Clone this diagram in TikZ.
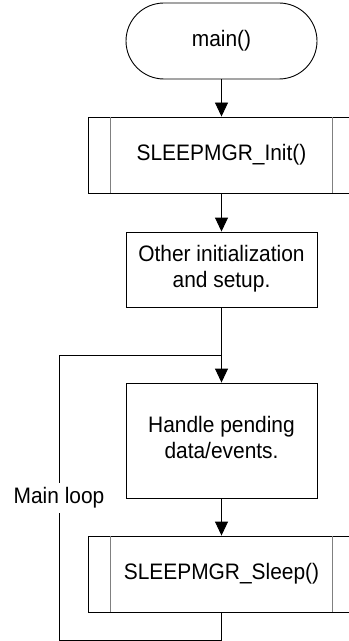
\documentclass[tikz,border=0pt]{standalone}
\usepackage{fontspec}
\usepackage{graphicx}
\setmainfont{Liberation Sans}
\usetikzlibrary{arrows.meta,calc}
\newcommand{\vtext}[1]{\scalebox{1}[1.07]{\begin{tabular}{@{}c@{}}#1\end{tabular}}}
\begin{document}
\begin{tikzpicture}[x=1bp,y=-1bp,
  every node/.style={font=\fontsize{21}{24}\selectfont, align=center, inner sep=0pt},
  box/.style={draw=black, line width=0.9bp, rectangle, fill=white},
  term/.style={draw=black, line width=0.9bp, rectangle, rounded corners=38bp, minimum width=191bp, minimum height=76bp},
  pbox/.style={box, minimum width=267bp, minimum height=76bp},
  pbar/.style={draw=gray, line width=1.2bp},
  conn/.style={draw=black, line width=0.9bp},
  arr/.style={conn, -{Triangle[width=13bp,length=14bp]}}]
\useasboundingbox (0,0) rectangle (348,641);
\node[term] (main) at (221.5,41) {\vtext{main()}};
\node[pbox] (init) at (221.5,155) {\vtext{SLEEPMGR\_Init()}};
\node[box, minimum width=191bp, minimum height=75bp] (other) at (221.5,269.5) {\vtext{Other initialization\\and setup.}};
\node[box, minimum width=191bp, minimum height=115bp] (handle) at (221.5,440.5) {\vtext{Handle pending\\data/events.}};
\node[pbox] (sleep) at (221.5,574) {\vtext{SLEEPMGR\_Sleep()}};
\foreach \n in {init,sleep}{
  \draw[pbar] ($(\n.north west)+(23,0)$) -- ($(\n.south west)+(23,0)$);
  \draw[pbar] ($(\n.north east)+(-23,0)$) -- ($(\n.south east)+(-23,0)$);
}
\coordinate (join) at (221.5,355);
\coordinate (tl) at (59,355);
\coordinate (bl) at (59,640);
\coordinate (br) at (221.5,640);
\draw[arr] (main) -- (init);
\draw[arr] (init) -- (other);
\draw[arr] (other) -- (handle);
\draw[arr] (handle) -- (sleep);
\draw[conn] (sleep.south) -- (br) -- (bl) -- (tl) -- (join);
\node[fill=white, inner ysep=2bp, inner xsep=0pt] (lbl) at (59,498) {\vtext{Main loop}};
\end{tikzpicture}
\end{document}
